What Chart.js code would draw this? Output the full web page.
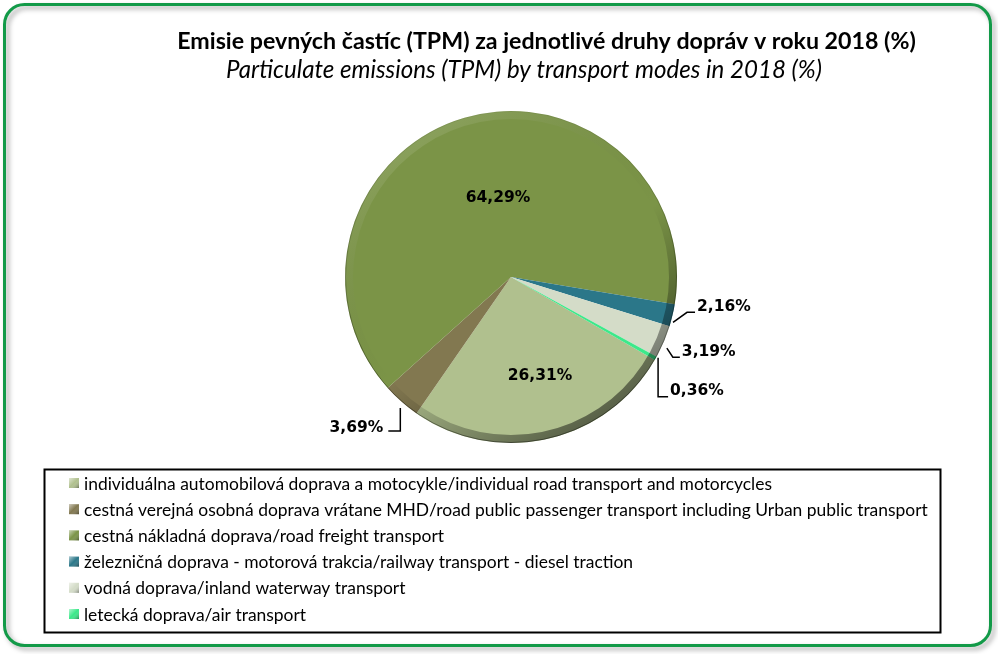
<!DOCTYPE html>
<html><head><meta charset="utf-8">
<script src="https://cdn.jsdelivr.net/npm/chart.js@4/dist/chart.umd.min.js"></script>
<style>html,body{margin:0;padding:0;background:#fff;}canvas{display:block;}</style>
</head><body>
<canvas id="c" width="998" height="654"></canvas>
<script>
const titleText = "Emisie pevných častíc (TPM) za jednotlivé druhy dopráv v roku 2018 (%)";
const subtitleText = "Particulate emissions (TPM) by transport modes in 2018 (%)";
const categories = [
  "individuálna automobilová doprava a motocykle/individual road transport and motorcycles",
  "cestná verejná osobná doprava vrátane MHD/road public passenger transport including Urban public transport",
  "cestná nákladná doprava/road freight transport",
  "železničná doprava - motorová trakcia/railway transport - diesel traction",
  "vodná doprava/inland waterway transport",
  "letecká doprava/air transport"
];
const values = [26.31, 3.69, 64.29, 2.16, 3.19, 0.36];
const colors = ["#b0c08e", "#827850", "#7b9447", "#2b7789", "#d4dcc8", "#3de88a"];

// label layout (style only): inside offset distance or leader offsets relative to arc edge point
const labelLayout = [
  {inside: true, dx: 29, dy: 98},
  {leader: [[-1,6.5],[-1,29.5],[-13,29.5]], tx: -18, ty: 25, align: "right"},
  {inside: true, dx: -13, dy: -80},
  {leader: [[0.5,7],[14.5,-3],[22.5,-3]], tx: 24.5, ty: -9, align: "left"},
  {leader: [[3,6.4],[9,15.4],[16,15.4]], tx: 18, ty: 9.5, align: "left"},
  {leader: [[2.4,-0.5],[2.4,38.5],[12.4,38.5]], tx: 14.4, ty: 32, align: "left"}
];

function fmt(v){ return v.toFixed(2).replace(".", ",") + "%"; }

function fitFont(ctx, text, style, family, target){
  let s = 20;
  ctx.font = style + " " + s + "px " + family;
  const w = ctx.measureText(text).width;
  s = s * target / w;
  return style + " " + s.toFixed(2) + "px " + family;
}

function roundRect(ctx, x, y, w, h, r){
  ctx.beginPath();
  ctx.moveTo(x + r, y);
  ctx.lineTo(x + w - r, y);
  ctx.arcTo(x + w, y, x + w, y + r, r);
  ctx.lineTo(x + w, y + h - r);
  ctx.arcTo(x + w, y + h, x + w - r, y + h, r);
  ctx.lineTo(x + r, y + h);
  ctx.arcTo(x, y + h, x, y + h - r, r);
  ctx.lineTo(x, y + r);
  ctx.arcTo(x, y, x + r, y, r);
  ctx.closePath();
}

const framePlugin = {
  id: "frame",
  beforeDraw(chart){
    const ctx = chart.ctx;
    ctx.save();
    ctx.fillStyle = "#fff";
    ctx.fillRect(0, 0, chart.width, chart.height);
    ctx.shadowColor = "rgba(0,0,0,0.35)";
    ctx.shadowBlur = 5;
    ctx.shadowOffsetX = 3;
    ctx.shadowOffsetY = 3;
    roundRect(ctx, 4.5, 4.5, 986, 641, 20);
    ctx.lineWidth = 3;
    ctx.strokeStyle = "#129a48";
    ctx.stroke();
    ctx.shadowColor = "transparent";
    ctx.fillStyle = "#000";
    ctx.textAlign = "center";
    ctx.textBaseline = "middle";
    ctx.font = fitFont(ctx, titleText, "bold", "Lato", 739);
    ctx.fillText(titleText, 546.5, 42);
    ctx.font = fitFont(ctx, subtitleText, "italic", "Lato", 596);
    ctx.fillText(subtitleText, 524, 70);
    ctx.restore();
  },
  afterDatasetsDraw(chart){
    const ctx = chart.ctx;
    const meta = chart.getDatasetMeta(0);
    const a0 = meta.data[0];
    const cx = a0.x, cy = a0.y, R = a0.outerRadius;
    ctx.save();
    ctx.beginPath();
    ctx.arc(cx, cy, R, 0, Math.PI * 2);
    ctx.arc(cx, cy, R - 8, 0, Math.PI * 2, true);
    const g = ctx.createLinearGradient(cx - R * 0.7, cy - R * 0.7, cx + R * 0.4, cy + R * 0.95);
    g.addColorStop(0, "rgba(255,255,255,0.10)");
    g.addColorStop(0.55, "rgba(0,0,0,0.0)");
    g.addColorStop(1, "rgba(0,0,0,0.5)");
    ctx.fillStyle = g;
    ctx.fill();
    ctx.beginPath();
    ctx.arc(cx, cy, R - 0.5, 0, Math.PI * 2);
    const g2 = ctx.createLinearGradient(cx, cy - R, cx, cy + R);
    g2.addColorStop(0, "rgba(0,0,0,0.05)");
    g2.addColorStop(1, "rgba(0,0,0,0.4)");
    ctx.strokeStyle = g2;
    ctx.lineWidth = 1;
    ctx.stroke();

    ctx.font = "bold 15.5px 'DejaVu Sans'";
    ctx.fillStyle = "#000";
    ctx.strokeStyle = "#000";
    ctx.lineWidth = 1.5;
    ctx.textBaseline = "middle";
    meta.data.forEach((arc, i) => {
      const L = labelLayout[i];
      const txt = fmt(values[i]);
      const mid = (arc.startAngle + arc.endAngle) / 2;
      if (L.inside) {
        const base = Math.atan2(L.dy, L.dx);
        const dist = Math.hypot(L.dx, L.dy);
        // anchor relative to the slice's own mid angle
        const ang = mid + (base - mid) ;
        const x = cx + Math.cos(ang) * dist;
        const y = cy + Math.sin(ang) * dist;
        ctx.textAlign = "center";
        ctx.fillText(txt, x, y + 1);
      } else {
        const ex = cx + Math.cos(mid) * R;
        const ey = cy + Math.sin(mid) * R;
        ctx.beginPath();
        L.leader.forEach((p, k) => {
          if (k === 0) ctx.moveTo(ex + p[0], ey + p[1]);
          else ctx.lineTo(ex + p[0], ey + p[1]);
        });
        ctx.stroke();
        ctx.textAlign = L.align;
        ctx.fillText(txt, ex + L.tx, ey + L.ty + 1);
      }
    });

    const lx = 44.5, ly = 469.5, lw = 896, lh = 163;
    ctx.strokeStyle = "#000";
    ctx.lineWidth = 2;
    ctx.strokeRect(lx, ly, lw, lh);
    ctx.font = fitFont(ctx, categories[1], "normal", "Lato", 844);
    ctx.textAlign = "left";
    ctx.textBaseline = "middle";
    categories.forEach((c, i) => {
      const y = 483 + i * 26.2;
      const mx = 69, my = y - 5, ms = 10;
      const mg = ctx.createLinearGradient(mx, my, mx + ms, my + ms);
      mg.addColorStop(0, "rgba(255,255,255,0.6)");
      mg.addColorStop(0.5, "rgba(255,255,255,0)");
      mg.addColorStop(1, "rgba(0,0,0,0.4)");
      ctx.fillStyle = colors[i];
      ctx.fillRect(mx, my, ms, ms);
      ctx.fillStyle = mg;
      ctx.fillRect(mx, my, ms, ms);
      ctx.fillStyle = "#000";
      ctx.fillText(c, 84, y + 1);
    });
    ctx.restore();
  }
};

new Chart(document.getElementById("c"), {
  type: "pie",
  data: {
    labels: categories,
    datasets: [{
      data: values,
      backgroundColor: colors,
      borderWidth: 0
    }]
  },
  options: {
    responsive: false,
    animation: false,
    rotation: 120,
    layout: { padding: { left: 345, right: 321, top: 111, bottom: 211 } },
    plugins: { legend: { display: false }, title: { display: false }, tooltip: { enabled: false } }
  },
  plugins: [framePlugin]
});
</script>
</body></html>
